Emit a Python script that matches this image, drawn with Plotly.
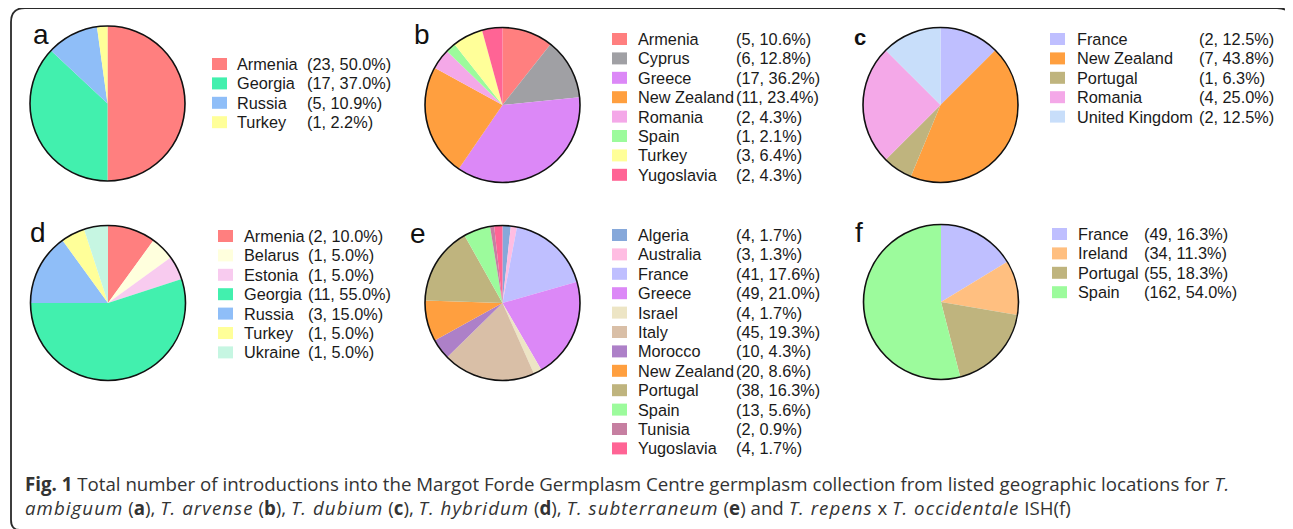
import math
import plotly.graph_objects as go

W, H = 1293, 529
OFF = 8  # default page body margin: figure pixel 0 sits at page pixel 8

# ---------------- data ----------------
a_labels = ["Armenia", "Georgia", "Russia", "Turkey"]
a_counts = [23, 17, 5, 1]

b_labels = ["Armenia", "Cyprus", "Greece", "New Zealand", "Romania", "Spain", "Turkey", "Yugoslavia"]
b_counts = [5, 6, 17, 11, 2, 1, 3, 2]

c_labels = ["France", "New Zealand", "Portugal", "Romania", "United Kingdom"]
c_counts = [2, 7, 1, 4, 2]

d_labels = ["Armenia", "Belarus", "Estonia", "Georgia", "Russia", "Turkey", "Ukraine"]
d_counts = [2, 1, 1, 11, 3, 1, 1]

e_labels = ["Algeria", "Australia", "France", "Greece", "Israel", "Italy", "Morocco",
            "New Zealand", "Portugal", "Spain", "Tunisia", "Yugoslavia"]
e_counts = [4, 3, 41, 49, 4, 45, 10, 20, 38, 13, 2, 4]

f_labels = ["France", "Ireland", "Portugal", "Spain"]
f_counts = [49, 34, 55, 162]

panel_letters = ["a", "b", "c", "d", "e", "f"]

# ---------------- styles ----------------
country_colors = {
    "Armenia": "#FF7F7F", "Georgia": "#42F0AE", "Russia": "#8FBEF8", "Turkey": "#FFFF99",
    "Cyprus": "#A0A0A4", "Greece": "#DC88F7", "New Zealand": "#FF9F3F", "Romania": "#F4A8E8",
    "Spain": "#9CFB9C", "Yugoslavia": "#FF6495", "France": "#BFBFFF", "Portugal": "#BFB47E",
    "United Kingdom": "#C8DEFA", "Belarus": "#FFFFDD", "Estonia": "#F8CBEF", "Ukraine": "#C6F6E2",
    "Algeria": "#86A8DA", "Australia": "#FFBDE2", "Israel": "#EDE5C5", "Italy": "#D9BFA7",
    "Morocco": "#AD80C8", "Tunisia": "#C67FA1", "Ireland": "#FFBF80",
}

# panel layout in page pixels: pie centre, legend square x, name x, value x, first row y
panels = [
    dict(labels=a_labels, counts=a_counts, cx=107.5, cy=103.5, sq=212, nx=235, vx=305, ry=64,  lx=31,  ly=17, lsize=28, lbold=False),
    dict(labels=b_labels, counts=b_counts, cx=502.5, cy=105,   sq=612, nx=636, vx=734, ry=39,  lx=412, ly=17, lsize=28, lbold=False),
    dict(labels=c_labels, counts=c_counts, cx=940.5, cy=105,   sq=1050, nx=1075, vx=1197, ry=39, lx=852, ly=23, lsize=22, lbold=True),
    dict(labels=d_labels, counts=d_counts, cx=108,   cy=303,   sq=218, nx=242, vx=306, ry=236, lx=28,  ly=215, lsize=28, lbold=False),
    dict(labels=e_labels, counts=e_counts, cx=502.5, cy=303,   sq=612, nx=636, vx=734, ry=235, lx=408, ly=216, lsize=28, lbold=False),
    dict(labels=f_labels, counts=f_counts, cx=941,   cy=302,   sq=1052, nx=1076, vx=1142, ry=234, lx=853, ly=215, lsize=28, lbold=False),
]
R = 77.5
ROW = 19.4
SQW, SQH = 15, 12
FONT = "Arial, Liberation Sans, sans-serif"
LEG_SIZE = 16.3


def pct(v, tot):
    return math.floor(v * 1000 / tot + 0.5) / 10


def it(s):
    return f'<span style="letter-spacing:1.05px"><i>{s}</i></span>'


fig = go.Figure()

# invisible pixel axes covering the whole page (for annotations / shapes)
fig.add_trace(go.Scatter(x=[OFF, OFF + W], y=[OFF, OFF + H], mode="markers", marker=dict(opacity=0),
                         showlegend=False, hoverinfo="skip"))

shapes = []
annotations = []

for p, letter in zip(panels, panel_letters):
    cx, cy = p["cx"] - OFF, p["cy"] - OFF
    dom_x = [(cx - R) / W, (cx + R) / W]
    dom_y = [1 - (cy + R) / H, 1 - (cy - R) / H]
    fig.add_trace(go.Pie(
        labels=p["labels"], values=p["counts"], sort=False, direction="clockwise",
        rotation=0, textinfo="none", showlegend=False,
        marker=dict(colors=[country_colors[l] for l in p["labels"]], line=dict(width=0)),
        domain=dict(x=dom_x, y=dom_y), hoverinfo="label+value+percent",
    ))
    # outer outline
    shapes.append(dict(type="circle", xref="x", yref="y", x0=p["cx"] - R, x1=p["cx"] + R,
                       y0=p["cy"] - R, y1=p["cy"] + R, line=dict(color="#111", width=1.6),
                       layer="above"))
    tot = sum(p["counts"])
    for i, (lab, v) in enumerate(zip(p["labels"], p["counts"])):
        y = p["ry"] + i * ROW
        shapes.append(dict(type="rect", xref="x", yref="y", x0=p["sq"], x1=p["sq"] + SQW,
                           y0=y - SQH / 2, y1=y + SQH / 2,
                           fillcolor=country_colors[lab], line=dict(width=0)))
        annotations.append(dict(x=p["nx"], y=y, xref="x", yref="y", text=lab,
                                showarrow=False, xanchor="left", yanchor="middle",
                                font=dict(family=FONT, size=LEG_SIZE, color="#1a1a1a")))
        annotations.append(dict(x=p["vx"], y=y, xref="x", yref="y",
                                text=f"({v}, {pct(v, tot):.1f}%)",
                                showarrow=False, xanchor="left", yanchor="middle",
                                font=dict(family=FONT, size=LEG_SIZE, color="#1a1a1a")))
    txt = f"<b>{letter}</b>" if p["lbold"] else letter
    annotations.append(dict(x=p["lx"], y=p["ly"], xref="x", yref="y", text=txt,
                            showarrow=False, xanchor="left", yanchor="top",
                            font=dict(family=FONT, size=p["lsize"], color="#111")))

# frame
shapes.append(dict(type="path", xref="x", yref="y",
                   path="M 20 530 Q 11 530 11 520 L 11 22 Q 11 8 25 8 L 1277 8 Q 1292 8 1292 22 L 1292 537",
                   line=dict(color="#2a2a2a", width=1.8)))

cap1 = ("<b>Fig. 1</b> Total number of introductions into the Margot Forde Germplasm Centre "
        "germplasm collection from listed geographic locations for " + it("T."))
cap2 = (it("ambiguum") + " (<b>a</b>), " + it("T. arvense") + " (<b>b</b>), " + it("T. dubium")
        + " (<b>c</b>), " + it("T. hybridum") + " (<b>d</b>), " + it("T. subterraneum")
        + " (<b>e</b>) and " + it("T. repens") + " x " + it("T. occidentale") + " ISH(f)")
for yy, t in [(483, cap1), (507, cap2)]:
    annotations.append(dict(x=23, y=yy, xref="x", yref="y", text=t, showarrow=False,
                            xanchor="left", yanchor="middle",
                            font=dict(family="Open Sans, sans-serif", size=18.7, color="#333")))

fig.update_layout(
    width=W, height=H, margin=dict(l=0, r=0, t=0, b=0),
    paper_bgcolor="white", plot_bgcolor="rgba(0,0,0,0)",
    xaxis=dict(range=[OFF, OFF + W], visible=False, fixedrange=True),
    yaxis=dict(range=[OFF + H, OFF], visible=False, fixedrange=True),
    shapes=shapes, annotations=annotations, showlegend=False,
)

fig.write_html("out.html")
